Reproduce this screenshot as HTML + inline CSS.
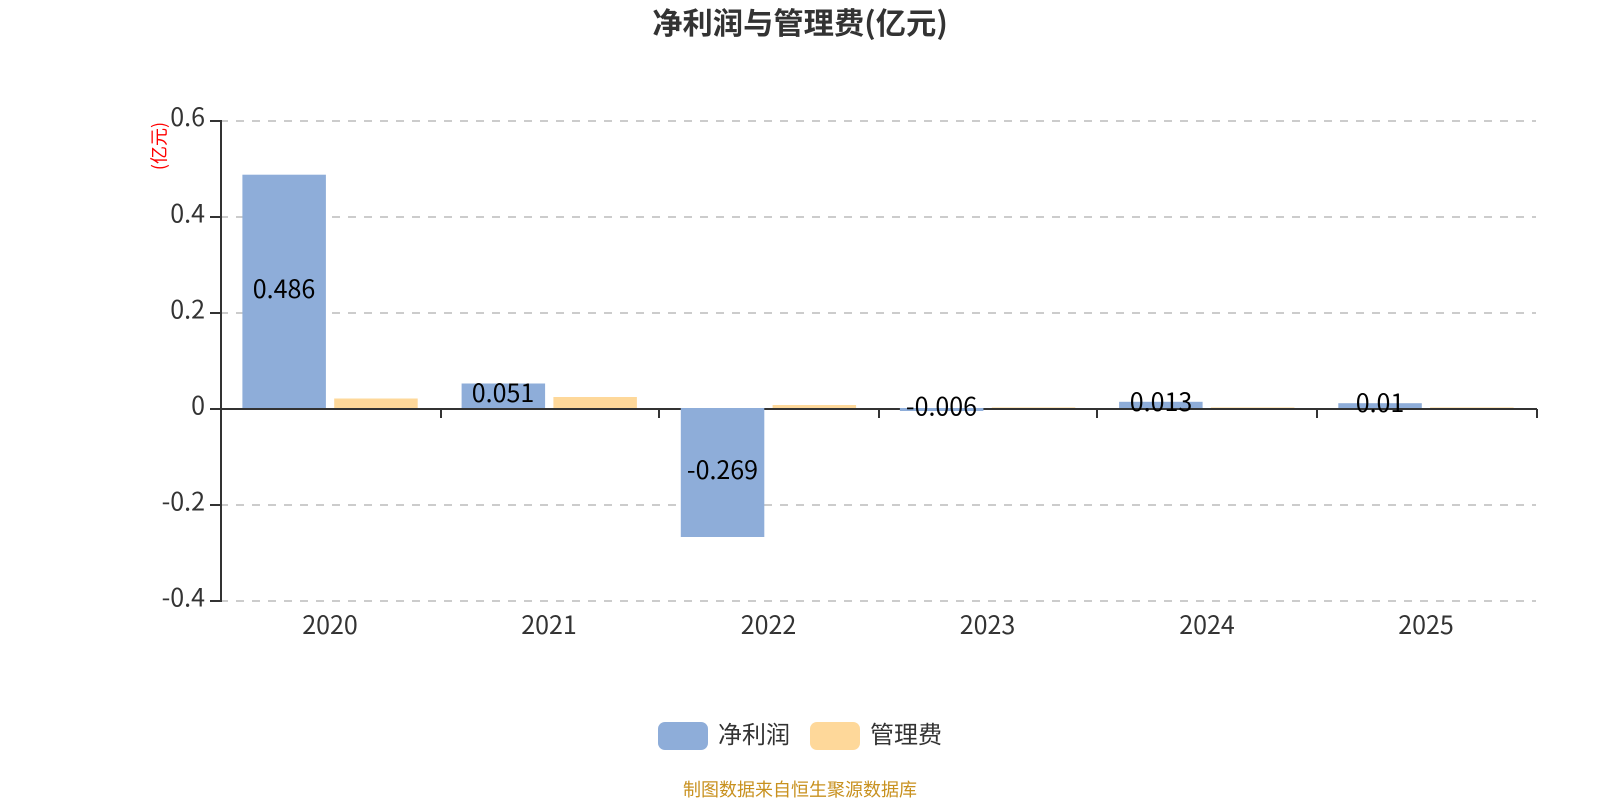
<!DOCTYPE html>
<html lang="zh">
<head>
<meta charset="utf-8">
<title>净利润与管理费(亿元)</title>
<style>
html,body{margin:0;padding:0;background:#fff;width:1600px;height:800px;overflow:hidden}
svg{display:block}
text{font-family:"Noto Sans CJK SC","Liberation Sans",sans-serif}
.t{font-size:25px;fill:#333}
.l{font-size:25px;fill:#000;text-anchor:middle}
.y{text-anchor:end}
.x{text-anchor:middle}
</style>
</head>
<body>
<svg width="1600" height="800" viewBox="0 0 1600 800" xmlns="http://www.w3.org/2000/svg">
<rect width="1600" height="800" fill="#fff"/>
<text x="800" y="34" text-anchor="middle" font-size="30.3" font-weight="700" fill="#333">净利润与管理费(亿元)</text>

<g stroke="#ccc" stroke-width="2" stroke-dasharray="8 8">
<line x1="220" y1="121" x2="1536" y2="121"/>
<line x1="220" y1="217" x2="1536" y2="217"/>
<line x1="220" y1="313" x2="1536" y2="313"/>
<line x1="220" y1="505" x2="1536" y2="505"/>
<line x1="220" y1="601" x2="1536" y2="601"/>
</g>

<g stroke="#333" stroke-width="2" fill="none">
<line x1="221" y1="120" x2="221" y2="602"/>
<line x1="220" y1="409" x2="1537" y2="409"/>
<line x1="210" y1="121" x2="221" y2="121"/>
<line x1="210" y1="217" x2="221" y2="217"/>
<line x1="210" y1="313" x2="221" y2="313"/>
<line x1="210" y1="409" x2="221" y2="409"/>
<line x1="210" y1="505" x2="221" y2="505"/>
<line x1="210" y1="601" x2="221" y2="601"/>
<line x1="221" y1="409" x2="221" y2="418"/>
<line x1="441" y1="409" x2="441" y2="418"/>
<line x1="659" y1="409" x2="659" y2="418"/>
<line x1="879" y1="409" x2="879" y2="418"/>
<line x1="1097" y1="409" x2="1097" y2="418"/>
<line x1="1317" y1="409" x2="1317" y2="418"/>
<line x1="1537" y1="409" x2="1537" y2="418"/>
</g>

<g fill="#8eadd9">
<rect x="242.4" y="174.7" width="83.5" height="233.3"/>
<rect x="461.6" y="383.5" width="83.5" height="24.5"/>
<rect x="680.8" y="408" width="83.5" height="129"/>
<rect x="899.9" y="408" width="83.5" height="3"/>
<rect x="1119.1" y="401.8" width="83.5" height="6.2"/>
<rect x="1338.3" y="403.2" width="83.5" height="4.8"/>
</g>
<g fill="#fed89a">
<rect x="334.2" y="398.5" width="83.5" height="9.5"/>
<rect x="553.4" y="397" width="83.5" height="11"/>
<rect x="772.6" y="405" width="83.5" height="3"/>
<rect x="991.8" y="407" width="83.5" height="1" fill="#fee9c4"/>
<rect x="1210.9" y="407" width="83.5" height="1" fill="#fee9c4"/>
<rect x="1430.1" y="407" width="83.5" height="1" fill="#fee9c4"/>
</g>

<g>
<text class="t y" x="205" y="126">0.6</text>
<text class="t y" x="205" y="222.5">0.4</text>
<text class="t y" x="205" y="318.5">0.2</text>
<text class="t y" x="205" y="414.5">0</text>
<text class="t y" x="205" y="510.5">-0.2</text>
<text class="t y" x="205" y="606.5">-0.4</text>
</g>
<g>
<text class="t x" x="330" y="634">2020</text>
<text class="t x" x="549" y="634">2021</text>
<text class="t x" x="768.5" y="634">2022</text>
<text class="t x" x="987.5" y="634">2023</text>
<text class="t x" x="1207" y="634">2024</text>
<text class="t x" x="1426" y="634">2025</text>
</g>

<text class="l" x="284" y="298">0.486</text>
<text class="l" x="503" y="402">0.051</text>
<text class="l" x="722.5" y="479">-0.269</text>
<text class="l" x="941.5" y="415.5">-0.006</text>
<text class="l" x="1161" y="411">0.013</text>
<text class="l" x="1380" y="412">0.01</text>

<text transform="translate(165.5,146) rotate(-90)" text-anchor="middle" font-size="18" fill="#f00">(亿元)</text>

<rect x="658" y="722" width="50" height="28" rx="7" fill="#8eadd9"/>
<text x="718" y="743" font-size="24" fill="#333">净利润</text>
<rect x="810" y="722" width="50" height="28" rx="7" fill="#fed89a"/>
<text x="870" y="743" font-size="24" fill="#333">管理费</text>

<text x="800" y="796" text-anchor="middle" font-size="18" fill="#c8911f">制图数据来自恒生聚源数据库</text>
</svg>
</body>
</html>
